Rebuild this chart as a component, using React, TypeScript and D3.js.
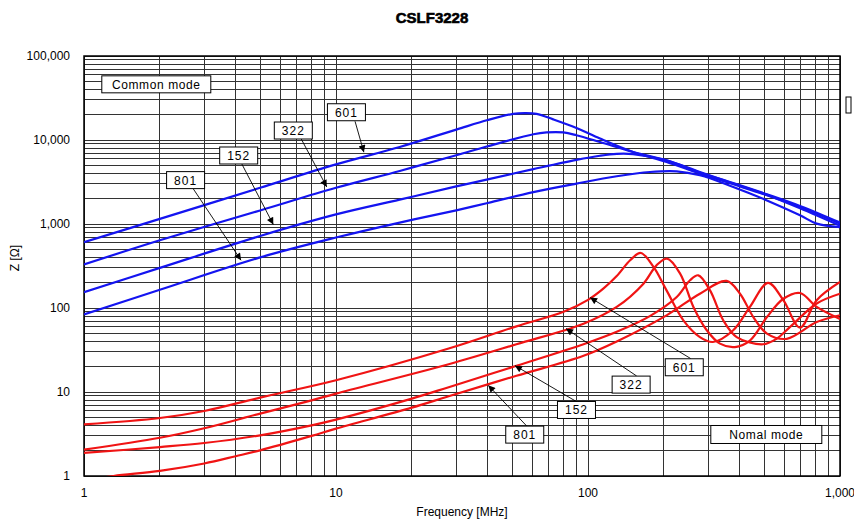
import React, { useEffect, useRef } from "react";
import * as d3 from "d3";

const WIDTH = 854;
const HEIGHT = 521;
const PLOT = { LEFT: 84, RIGHT: 840, TOP: 56, BOTTOM: 476 };

const TITLE = "CSLF3228";
const X_TICKS = [1, 10, 100, 1000];
const X_TICK_LABELS = ["1", "10", "100", "1,000"];
const Y_TICKS = [1, 10, 100, 1000, 10000, 100000];
const Y_TICK_LABELS = ["1", "10", "100", "1,000", "10,000", "100,000"];

// common mode (blue)
const cm601F = [1, 2, 5, 10, 17.9, 30, 40, 50.5, 56, 62.5, 72.8, 90, 111.6, 151, 205, 278, 377, 513, 694, 1000];
const cm601Z = [606, 1150, 2700, 5120, 8260, 13300, 17300, 20500, 20900, 20500, 17600, 13900, 10400, 7200, 5470, 3980, 2970, 2200, 1590, 1010];
const cm322F = [1, 2, 5, 10, 17.9, 30, 40, 60.7, 68.5, 79.8, 90, 111.6, 151, 205, 278, 377, 513, 694, 1000];
const cm322Z = [330, 640, 1450, 2700, 4280, 6580, 8420, 11700, 12300, 12300, 11400, 9460, 7200, 5730, 4110, 3070, 2260, 1640, 1040];
const cm152F = [1, 2, 5, 10, 17.9, 30, 40, 60.7, 90, 111.6, 130, 151, 205, 278, 377, 513, 694, 1000];
const cm152Z = [154, 300, 720, 1300, 1950, 2800, 3400, 4500, 5800, 6500, 6850, 6800, 5730, 4160, 3030, 2220, 1540, 955];
const cm801F = [1, 2, 5, 10, 17.9, 30, 40, 60.7, 90, 130, 176, 225, 278, 377, 513, 694, 808, 1000];
const cm801Z = [84, 165, 400, 690, 1040, 1455, 1780, 2400, 3030, 3700, 4160, 4240, 3800, 2760, 1910, 1270, 1010, 920];

// normal mode (red)
const nm601F = [1, 2, 3, 5, 10, 28, 52, 80, 100, 115, 130, 147, 162, 182, 205, 239, 278, 313, 377, 439, 518, 596, 694, 808, 1000];
const nm601Z = [4.12, 4.9, 5.94, 8.58, 13.8, 32.9, 60.5, 90, 125, 170, 240, 370, 452, 308, 162, 71.4, 45.1, 39.4, 54.3, 103, 199, 124, 58.4, 124, 204];
const nm322F = [1, 2, 3, 5, 8, 10, 28, 52, 96, 130, 166, 187, 206, 232, 262, 296, 334, 383, 439, 513, 596, 694, 808, 1000];
const nm322Z = [2.06, 2.85, 3.7, 5.53, 7.96, 9.57, 21.4, 37, 65, 103, 195, 322, 387, 257, 103, 54.3, 37.7, 34.3, 41, 78, 129, 151, 103, 74];
const nm152F = [1, 2, 3, 5, 8, 10, 20, 28, 52, 96, 130, 176, 225, 254, 274, 305, 344, 389, 495, 560, 634, 808, 1000];
const nm152Z = [1.88, 2.21, 2.47, 3.05, 4.01, 4.69, 8.34, 11.4, 20.5, 37, 52, 80, 135, 214, 245, 162, 71.4, 45.1, 37, 43, 59.5, 113, 148];
const nm801F = [1, 1.31, 2, 3, 4, 5, 8, 10, 20, 28, 52, 96, 130, 205, 278, 355, 401, 453, 513, 615, 808, 1000];
const nm801Z = [0.88, 1.0, 1.15, 1.41, 1.72, 2.02, 3.0, 3.66, 6.52, 8.9, 15.6, 27, 40, 81.8, 148, 210, 148, 78, 49.6, 43, 68, 82];

const SERIES = [
  { f: cm601F, z: cm601Z, color: "#1414f0" },
  { f: cm322F, z: cm322Z, color: "#1414f0" },
  { f: cm152F, z: cm152Z, color: "#1414f0" },
  { f: cm801F, z: cm801Z, color: "#1414f0" },
  { f: nm601F, z: nm601Z, color: "#f01414" },
  { f: nm322F, z: nm322Z, color: "#f01414" },
  { f: nm152F, z: nm152Z, color: "#f01414" },
  { f: nm801F, z: nm801Z, color: "#f01414" },
];

// callouts: box centre, arrow start, arrow tip (all in MHz / ohm)
const CALLOUTS = [
  { label: "601", box: [11.0, 21400], from: [11.9, 16700], tip: [12.9, 7150] },
  { label: "322", box: [6.77, 12970], from: [7.28, 10280], tip: [9.19, 2760] },
  { label: "152", box: [4.11, 6540], from: [4.23, 5180], tip: [5.64, 984] },
  { label: "801", box: [2.53, 3330], from: [2.71, 2640], tip: [4.2, 370] },
  { label: "601", box: [241, 19.7], from: [255.6, 25.0], tip: [101.9, 133] },
  { label: "322", box: [148.3, 12.25], from: [156, 15.5], tip: [81.8, 56.9] },
  { label: "152", box: [90.0, 6.11], from: [89.6, 7.75], tip: [51.3, 20.6] },
  { label: "801", box: [56.1, 3.11], from: [57.1, 3.94], tip: [40.2, 12.0] },
];

const MODE_BOXES = [
  { label: "Common mode", at: [1.936, 46000], w: 109, h: 17 },
  { label: "Nomal mode", at: [510, 3.12], w: 111, h: 18 },
];

const FONT = "'Liberation Sans', Arial, sans-serif";

const App: React.FC = () => {
  const svgRef = useRef<SVGSVGElement | null>(null);

  useEffect(() => {
    document.body.style.margin = "0";
    const svg = d3.select(svgRef.current);
    svg.selectAll("*").remove();

    const x = d3.scaleLog().domain([1, 1000]).range([PLOT.LEFT, PLOT.RIGHT]);
    const y = d3.scaleLog().domain([1, 100000]).range([PLOT.BOTTOM, PLOT.TOP]);

    svg.append("rect").attr("width", WIDTH).attr("height", HEIGHT).attr("fill", "#fff");

    const defs = svg.append("defs");
    defs.append("clipPath").attr("id", "plotclip")
      .append("rect")
      .attr("x", PLOT.LEFT).attr("y", PLOT.TOP)
      .attr("width", PLOT.RIGHT - PLOT.LEFT).attr("height", PLOT.BOTTOM - PLOT.TOP);
    defs.append("marker")
      .attr("id", "arrow")
      .attr("viewBox", "0 0 10 10")
      .attr("refX", 10).attr("refY", 5)
      .attr("markerWidth", 9).attr("markerHeight", 7)
      .attr("markerUnits", "userSpaceOnUse")
      .attr("orient", "auto")
      .append("path").attr("d", "M0,0 L10,5 L0,10 z").attr("fill", "#000");

    // grid
    const xGrid: number[] = [];
    [1, 10, 100].forEach((d) => d3.range(1, 10).forEach((k) => xGrid.push(k * d)));
    xGrid.push(1000);
    const yGrid: number[] = [];
    [1, 10, 100, 1000, 10000].forEach((d) => d3.range(1, 10).forEach((k) => yGrid.push(k * d)));
    yGrid.push(100000);

    const grid = svg.append("g").attr("stroke", "#333").attr("stroke-width", 1).attr("shape-rendering", "crispEdges");
    grid.selectAll("line.v").data(xGrid).join("line")
      .attr("class", "v")
      .attr("x1", (d) => x(d)).attr("x2", (d) => x(d))
      .attr("y1", PLOT.TOP).attr("y2", PLOT.BOTTOM);
    grid.selectAll("line.h").data(yGrid).join("line")
      .attr("class", "h")
      .attr("x1", PLOT.LEFT).attr("x2", PLOT.RIGHT)
      .attr("y1", (d) => y(d)).attr("y2", (d) => y(d));

    svg.append("rect")
      .attr("x", PLOT.LEFT).attr("y", PLOT.TOP)
      .attr("width", PLOT.RIGHT - PLOT.LEFT).attr("height", PLOT.BOTTOM - PLOT.TOP)
      .attr("fill", "none").attr("stroke", "#000").attr("stroke-width", 1.5);

    // tick labels
    svg.append("g").selectAll("text").data(X_TICKS).join("text")
      .attr("x", (d) => x(d)).attr("y", 497)
      .attr("text-anchor", "middle")
      .attr("font-family", FONT).attr("font-size", 12)
      .text((d, i) => X_TICK_LABELS[i]);
    svg.append("g").selectAll("text").data(Y_TICKS).join("text")
      .attr("x", 70).attr("y", (d) => y(d) + 4)
      .attr("text-anchor", "end")
      .attr("font-family", FONT).attr("font-size", 12)
      .text((d, i) => Y_TICK_LABELS[i]);

    // curves
    const line = d3.line<[number, number]>()
      .x((d) => x(d[0]))
      .y((d) => y(d[1]))
      .curve(d3.curveCatmullRom.alpha(0.5));
    const curves = svg.append("g").attr("clip-path", "url(#plotclip)");
    SERIES.forEach((s) => {
      const pts = s.f.map((f, i) => [f, s.z[i]] as [number, number]);
      curves.append("path")
        .datum(pts)
        .attr("d", line)
        .attr("fill", "none")
        .attr("stroke", s.color)
        .attr("stroke-width", 2.2)
        .attr("stroke-linejoin", "round");
    });

    // callouts
    const callouts = svg.append("g");
    CALLOUTS.forEach((c) => {
      callouts.append("line")
        .attr("x1", x(c.from[0])).attr("y1", y(c.from[1]))
        .attr("x2", x(c.tip[0])).attr("y2", y(c.tip[1]))
        .attr("stroke", "#000").attr("stroke-width", 0.9)
        .attr("marker-end", "url(#arrow)");
      const bx = x(c.box[0]);
      const by = y(c.box[1]);
      callouts.append("rect")
        .attr("x", bx - 19).attr("y", by - 8.5)
        .attr("width", 38).attr("height", 17)
        .attr("fill", "#fff").attr("stroke", "#000").attr("stroke-width", 1);
      callouts.append("text")
        .attr("x", bx).attr("y", by + 4.5)
        .attr("text-anchor", "middle")
        .attr("font-family", FONT).attr("font-size", 12)
        .attr("letter-spacing", 1)
        .text(c.label);
    });

    MODE_BOXES.forEach((m) => {
      const bx = x(m.at[0]);
      const by = y(m.at[1]);
      callouts.append("rect")
        .attr("x", bx - m.w / 2).attr("y", by - m.h / 2)
        .attr("width", m.w).attr("height", m.h)
        .attr("fill", "#fff").attr("stroke", "#000").attr("stroke-width", 1);
      callouts.append("text")
        .attr("x", bx).attr("y", by + 4.5)
        .attr("text-anchor", "middle")
        .attr("font-family", FONT).attr("font-size", 12)
        .attr("letter-spacing", 0.6)
        .text(m.label);
    });

    // stray marker at the right edge
    svg.append("rect")
      .attr("x", PLOT.RIGHT + 6).attr("y", 97)
      .attr("width", 5).attr("height", 16)
      .attr("fill", "#fff").attr("stroke", "#000").attr("stroke-width", 1);

    // titles
    svg.append("text")
      .attr("x", 432).attr("y", 23)
      .attr("text-anchor", "middle")
      .attr("font-family", FONT).attr("font-size", 15).attr("font-weight", "bold")
      .attr("stroke", "#000").attr("stroke-width", 0.6)
      .text(TITLE);
    svg.append("text")
      .attr("x", 462).attr("y", 516)
      .attr("text-anchor", "middle")
      .attr("font-family", FONT).attr("font-size", 12)
      .text("Frequency [MHz]");
    svg.append("text")
      .attr("transform", "translate(19,258) rotate(-90)")
      .attr("text-anchor", "middle")
      .attr("font-family", FONT).attr("font-size", 12)
      .text("Z [Ω]");
  }, []);

  return <svg ref={svgRef} width={WIDTH} height={HEIGHT} style={{ display: "block" }} />;
};

export default App;
